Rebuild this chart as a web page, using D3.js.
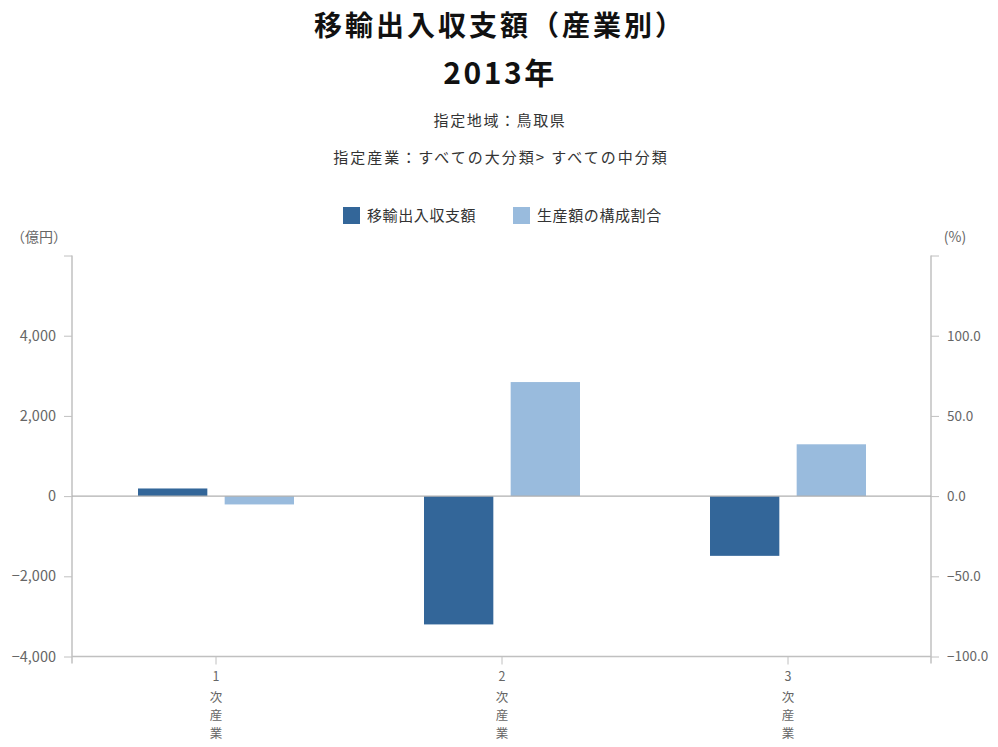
<!DOCTYPE html>
<html><head><meta charset="utf-8">
<script src="https://cdn.jsdelivr.net/npm/d3@7"></script>
<style>
html,body{margin:0;padding:0;background:#fff;}
text{font-family:"Noto Sans CJK JP","Noto Sans",sans-serif;}
</style></head>
<body><svg id="chart" width="998" height="747"></svg>
<script>
const categories = ["1次産業", "2次産業", "3次産業"];
const categoryNums = ["1", "2", "3"];
const seriesNames = ["移輸出入収支額", "生産額の構成割合"];
const balanceValues = [190, -3200, -1490];      // 億円 (left axis)
const shareValues = [-5.2, 71.1, 32.3];          // % (right axis)
const leftTicks = [-4000, -2000, 0, 2000, 4000, 6000];
const rightTicks = [-100, -50, 0, 50, 100, 150];
const colors = ["#336699", "#99bbdd"];

const svg = d3.select("#chart");
const L = 72, R = 931, T = 255.5, B = 656.5;
const axisColor = "#c0c0c0", labelColor = "#666";

// Titles
svg.append("text").attr("x", 500).attr("y", 36).attr("text-anchor", "middle")
  .attr("font-size", 28).attr("font-weight", "bold").attr("letter-spacing", 3).attr("fill", "#111")
  .text("移輸出入収支額（産業別）");
svg.append("text").attr("x", 500).attr("y", 84).attr("text-anchor", "middle")
  .attr("font-size", 30).attr("font-weight", "bold").attr("letter-spacing", 2.5).attr("fill", "#111")
  .text("2013年");
svg.append("text").attr("x", 500).attr("y", 126).attr("text-anchor", "middle")
  .attr("font-size", 15).attr("letter-spacing", 1.6).attr("fill", "#333")
  .text("指定地域：鳥取県");
svg.append("text").attr("x", 501).attr("y", 163).attr("text-anchor", "middle")
  .attr("font-size", 15).attr("letter-spacing", 2.0).attr("fill", "#333")
  .text("指定産業：すべての大分類> すべての中分類");

// Legend
const legendX = [343, 513];
seriesNames.forEach((n, i) => {
  svg.append("rect").attr("x", legendX[i]).attr("y", 207).attr("width", 17).attr("height", 17).attr("fill", colors[i]);
  svg.append("text").attr("x", legendX[i] + 24).attr("y", 221).attr("font-size", 15).attr("letter-spacing", 0.6)
    .attr("fill", "#333").text(n);
});

// Scales
const x0 = d3.scaleBand().domain(categories).range([L + 1, R]).padding(0);
const x1 = d3.scaleBand().domain(seriesNames).range([0, x0.bandwidth()]).paddingInner(0.2).paddingOuter(0.75);
const yL = d3.scaleLinear().domain([-4000, 6000]).range([B, T]);
const yR = d3.scaleLinear().domain([-100, 150]).range([B, T]);

// Axis titles
svg.append("text").attr("x", 39).attr("y", 242).attr("text-anchor", "middle").attr("font-size", 14)
  .attr("fill", labelColor).text("（億円）");
svg.append("text").attr("x", 955).attr("y", 242).attr("text-anchor", "middle").attr("font-size", 14)
  .attr("fill", labelColor).text("(%)");

// Left axis
const gL = svg.append("g").attr("transform", `translate(${L},0)`)
  .call(d3.axisLeft(yL).tickValues(leftTicks).tickSize(8).tickPadding(8)
    .tickFormat(d => d === 6000 ? "" : d3.format(",")(d)));
gL.select(".domain").remove();
gL.selectAll(".tick line").attr("stroke", axisColor);
gL.selectAll(".tick text").attr("fill", labelColor).attr("font-size", 14.5).attr("font-family", "\"Noto Sans\",sans-serif");
svg.append("line").attr("x1", L).attr("x2", L).attr("y1", T).attr("y2", B + 7).attr("stroke", axisColor).attr("stroke-width", 1.5);

// Right axis
const gR = svg.append("g").attr("transform", `translate(${R},0)`)
  .call(d3.axisRight(yR).tickValues(rightTicks).tickSize(8).tickPadding(8)
    .tickFormat(d => d === 150 ? "" : d3.format(".1f")(d)));
gR.select(".domain").remove();
gR.selectAll(".tick line").attr("stroke", axisColor);
gR.selectAll(".tick text").attr("fill", labelColor).attr("font-size", 13.5).attr("font-family", "\"Noto Sans\",sans-serif");
svg.append("line").attr("x1", R).attr("x2", R).attr("y1", T).attr("y2", B + 7).attr("stroke", axisColor).attr("stroke-width", 1.5);

// Bottom axis line & ticks
svg.append("line").attr("x1", L).attr("x2", R).attr("y1", B).attr("y2", B).attr("stroke", axisColor).attr("stroke-width", 1.5);
categories.forEach((c, i) => {
  const cx = x0(c) + x0.bandwidth() / 2;
  svg.append("line").attr("x1", cx).attr("x2", cx).attr("y1", B).attr("y2", B + 8).attr("stroke", axisColor);
  const t = svg.append("text").attr("x", cx).attr("text-anchor", "middle").attr("font-size", 12.5).attr("fill", labelColor);
  t.append("tspan").attr("x", cx).attr("y", 681).text(categoryNums[i]);
  ["次", "産", "業"].forEach((ch, j) => {
    t.append("tspan").attr("x", cx).attr("y", 702 + j * 18).text(ch);
  });
});

// Bars
const barsG = svg.append("g");
categories.forEach((c, i) => {
  const vL = balanceValues[i], vR = shareValues[i];
  barsG.append("rect").attr("x", x0(c) + x1(seriesNames[0])).attr("width", x1.bandwidth())
    .attr("y", yL(Math.max(0, vL))).attr("height", Math.abs(yL(vL) - yL(0))).attr("fill", colors[0]);
  barsG.append("rect").attr("x", x0(c) + x1(seriesNames[1])).attr("width", x1.bandwidth())
    .attr("y", yR(Math.max(0, vR))).attr("height", Math.abs(yR(vR) - yR(0))).attr("fill", colors[1]);
});

// Zero line
svg.append("line").attr("x1", L).attr("x2", R).attr("y1", yL(0)).attr("y2", yL(0)).attr("stroke", "#b0b0b0").attr("stroke-width", 1.2);
</script>
</body></html>
